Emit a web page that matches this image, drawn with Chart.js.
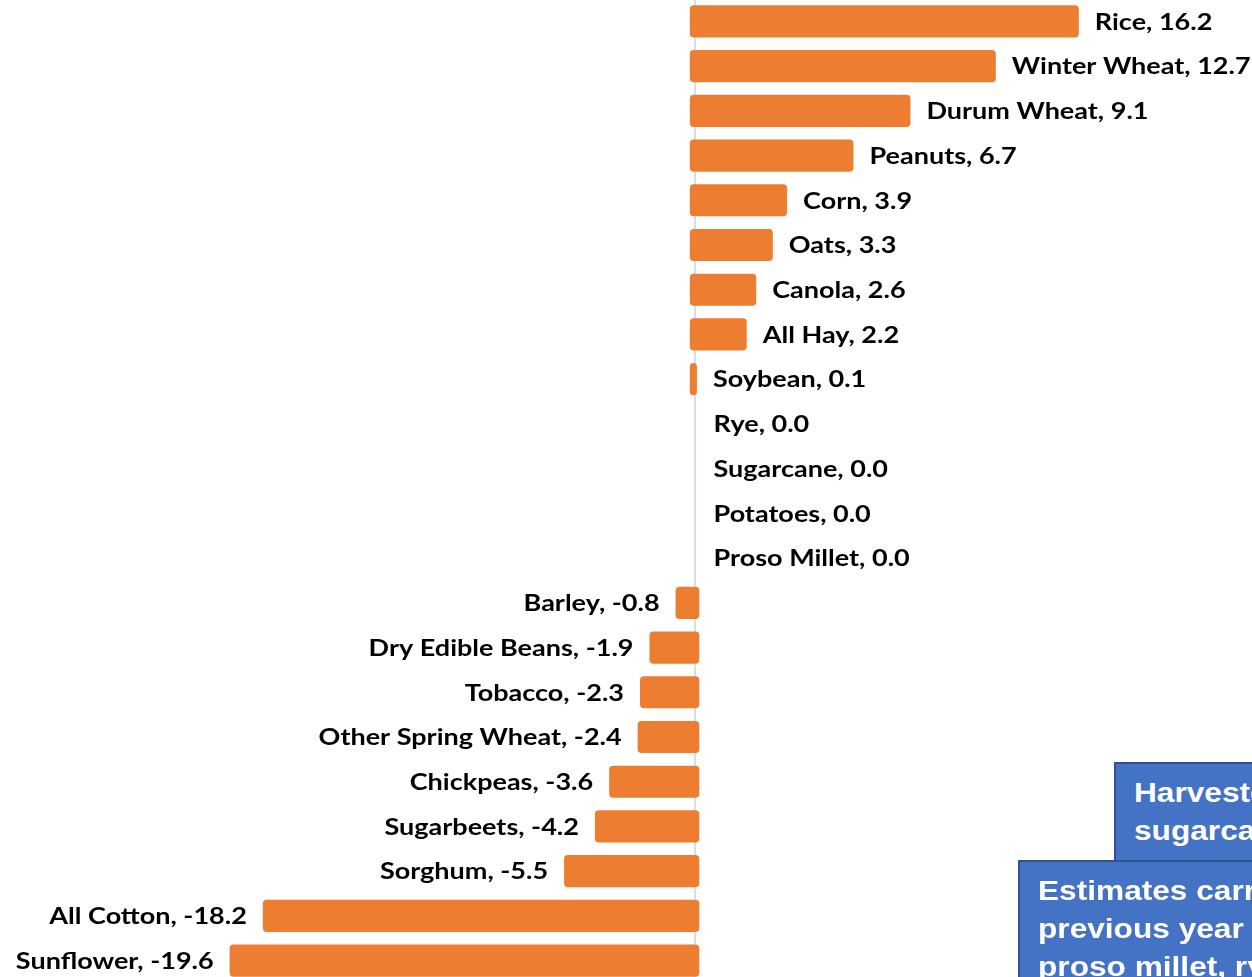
<!DOCTYPE html>
<html>
<head>
<meta charset="utf-8">
<script src="https://cdn.jsdelivr.net/npm/chart.js@4"></script>
<style>
  html, body { margin: 0; padding: 0; width: 1252px; height: 977px; overflow: hidden; background: #fff; }
  #wrap { position: absolute; left: 0; top: -1px; width: 1252px; height: 984px; }
  .box { position: absolute; background: #4472C4; border: 2px solid #2F528F; color: #fff;
         font-family: "Liberation Sans", Arial, sans-serif; font-weight: bold; font-size: 28.5px;
         line-height: 38px; white-space: nowrap; overflow: hidden; box-sizing: border-box; }
  .box span { display: inline-block; transform: scaleX(1.11); transform-origin: left top; }
  #box1 { left: 1114px; top: 762px; width: 300px; height: 120px; padding: 9px 0 0 18px; }
  #box2 { left: 1018px; top: 860px; width: 400px; height: 160px; padding: 9px 0 0 18px; }
</style>
</head>
<body>
<div id="wrap"><canvas id="c"></canvas></div>
<div class="box" id="box1"><span>Harvested area for<br>sugarcane not yet available</span></div>
<div class="box" id="box2"><span>Estimates carried forward from<br>previous year for potatoes,<br>proso millet, rye</span></div>
<script>
const categories = ["Rice", "Winter Wheat", "Durum Wheat", "Peanuts", "Corn", "Oats", "Canola", "All Hay",
  "Soybean", "Rye", "Sugarcane", "Potatoes", "Proso Millet", "Barley", "Dry Edible Beans", "Tobacco",
  "Other Spring Wheat", "Chickpeas", "Sugarbeets", "Sorghum", "All Cotton", "Sunflower"];
const changes = [16.2, 12.7, 9.1, 6.7, 3.9, 3.3, 2.6, 2.2, 0.1, 0.0, 0.0, 0.0, 0.0, -0.8, -1.9, -2.3,
  -2.4, -3.6, -4.2, -5.5, -18.2, -19.6];

const OVERLAP = 0.2;      // bars slightly overlap past the zero line
const LABEL_GAP = 16;
const TEXT_STRETCH = 1.2;
const barData = changes.map(v => v === 0 ? null : [v > 0 ? -OVERLAP : OVERLAP, v]);

const labelPlugin = {
  id: 'endLabels',
  afterDatasetsDraw(chart) {
    const ctx = chart.ctx;
    const xs = chart.scales.x, ys = chart.scales.y;
    changes.forEach((v, i) => {
      const y = ys.getPixelForValue(i);
      const txt = categories[i] + ', ' + v.toFixed(1);
      ctx.save();
      ctx.font = 'bold 22.5px Lato, "Open Sans", sans-serif';
      ctx.fillStyle = '#000';
      ctx.textBaseline = 'middle';
      let x;
      if (v < 0) {
        ctx.textAlign = 'right';
        x = xs.getPixelForValue(v) - LABEL_GAP;
      } else {
        ctx.textAlign = 'left';
        x = (v === 0 ? xs.getPixelForValue(0) + 3 : xs.getPixelForValue(v)) + LABEL_GAP;
      }
      ctx.translate(x, y + 1);
      ctx.scale(TEXT_STRETCH, 1);
      ctx.fillText(txt, 0, 0);
      ctx.restore();
    });
  }
};

new Chart(document.getElementById('c'), {
  type: 'bar',
  data: {
    labels: categories,
    datasets: [{
      data: barData,
      backgroundColor: '#ED7D31',
      borderRadius: 4,
      borderSkipped: false,
      barPercentage: 0.72,
      categoryPercentage: 1.0
    }]
  },
  options: {
    indexAxis: 'y',
    responsive: true,
    maintainAspectRatio: false,
    animation: false,
    layout: { padding: 0 },
    plugins: { legend: { display: false }, tooltip: { enabled: false } },
    scales: {
      x: {
        type: 'linear',
        min: -29.28,
        max: 23.5,
        ticks: { display: false, stepSize: 1 },
        border: { display: false },
        grid: {
          drawTicks: false,
          lineWidth: 2,
          color: c => (c.tick && c.tick.value === 0) ? '#D9DDE6' : 'rgba(0,0,0,0)'
        }
      },
      y: {
        display: false
      }
    }
  },
  plugins: [labelPlugin]
});
</script>
</body>
</html>
